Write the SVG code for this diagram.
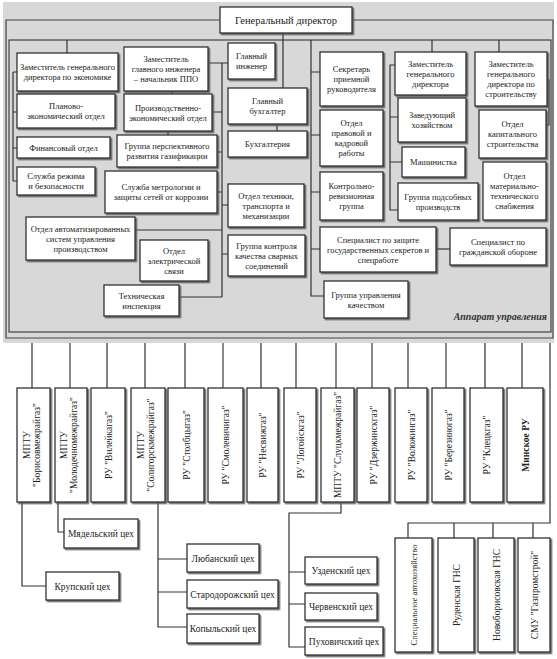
<svg xmlns="http://www.w3.org/2000/svg" width="557" height="659" viewBox="0 0 557 659">
<defs>
<filter id="sh" x="-10%" y="-10%" width="130%" height="130%">
<feDropShadow dx="1.5" dy="1.5" stdDeviation="0.4" flood-color="#555" flood-opacity="0.9"/>
</filter>
<style>
.b{fill:#fff;stroke:#333;stroke-width:1.3;filter:url(#sh)}
.t{font-family:'Liberation Serif','DejaVu Serif',serif;font-size:8.5px;text-anchor:middle;fill:#222}
.v{font-family:'Liberation Serif','DejaVu Serif',serif;font-size:9.5px;text-anchor:middle;fill:#222}
.a{font-family:'Liberation Serif','DejaVu Serif',serif;font-size:10px;font-style:italic;font-weight:bold;text-anchor:end;fill:#333}
.c{fill:none;stroke:#333;stroke-width:1.2}
.g{fill:none;stroke:#888;stroke-width:2}
.f{fill:none;stroke:#444;stroke-width:1.2}
</style>
</defs>
<rect x="0" y="0" width="557" height="659" fill="#fff"/>
<rect x="3" y="2" width="551" height="341" fill="#d8d8d8"/>
<g id="frame">
<path class="f" d="M220 20H6V338H553V20H352"/>
<rect class="f" x="9" y="40" width="542" height="292"/>
<text class="a" x="547" y="320">Аппарат управления</text>
</g>
<g id="connectors">
<path class="c" d="M283 33V88"/>
<path class="c" d="M67 40V53"/>
<path class="c" d="M311 40V296H324M311 72H320M311 135H320M311 192H320M311 249H320"/>
<path class="c" d="M432 40V52"/>
<path class="c" d="M499 40V52"/>
<path class="c" d="M13 72V181M13 72H17M13 112H17M13 148H17M13 181H17"/>
<path class="c" d="M208 63H228M222 63V297M212 112H222M217 152H222M217 192H222M222 205H228M135 230H222M222 254H228M179 297H222"/>
<path class="c" d="M172 91V94M168 131V135M277 124V131"/>
<path class="c" d="M395 65H390V210H398M390 117H398M390 162H402"/>
<path class="c" d="M547 80H549V125H546"/>
<path class="c" d="M436 249H450"/>
<path class="c" d="M32 343V388M107 343V388M145 343V388M185 343V388M261 343V388M296 343V388M408 343V388M485 343V388M522 343V388"/>
<path class="g" d="M70 343V388M223 343V388M336 343V388M372 343V388M446 343V388"/>
<path class="c" d="M550 343V523H408V538M454 523V538M493 523V538M533 523V538"/>
<path class="c" d="M22 502V586H46"/>
<path class="c" d="M58 502V532H64"/>
<path class="c" d="M158 502V627H187M158 559H187M158 592H187"/>
<path class="c" d="M341 502V513H289V647H305M289 572H305M289 604H305"/>
</g>
<g id="gen_dir"><rect class="b" x="220" y="7" width="132" height="26"/><text class="t" x="286" y="23.5" style="font-size:10.5px">Генеральный директор</text></g>
<g id="zam_econ"><rect class="b" x="17" y="53" width="101" height="38"/><text class="t" x="67.5" y="70">Заместитель генерального<tspan x="67.5" dy="10">директора по экономике</tspan></text></g>
<g id="zam_gi"><rect class="b" x="124" y="47" width="84" height="44"/><text class="t" x="166" y="62">Заместитель<tspan x="166" dy="10">главного инженера</tspan><tspan x="166" dy="10">– начальник ППО</tspan></text></g>
<g id="gl_inzh"><rect class="b" x="228" y="43" width="47" height="36"/><text class="t" x="251.5" y="59">Главный<tspan x="251.5" dy="10">инженер</tspan></text></g>
<g id="plan_econ"><rect class="b" x="17" y="94" width="98" height="34"/><text class="t" x="66" y="109">Планово-<tspan x="66" dy="10">экономический отдел</tspan></text></g>
<g id="proizv_econ"><rect class="b" x="124" y="94" width="88" height="37"/><text class="t" x="168" y="110.5">Производственно-<tspan x="168" dy="10">экономический отдел</tspan></text></g>
<g id="gl_buh"><rect class="b" x="228" y="88" width="79" height="36"/><text class="t" x="267.5" y="104">Главный<tspan x="267.5" dy="10">бухгалтер</tspan></text></g>
<g id="buh"><rect class="b" x="228" y="131" width="79" height="26"/><text class="t" x="267.5" y="147">Бухгалтерия</text></g>
<g id="fin"><rect class="b" x="17" y="137" width="93" height="21"/><text class="t" x="63.5" y="150.5">Финансовый отдел</text></g>
<g id="persp"><rect class="b" x="117" y="135" width="100" height="32"/><text class="t" x="167" y="149">Группа перспективного<tspan x="167" dy="10">развития газификации</tspan></text></g>
<g id="rezhim"><rect class="b" x="17" y="167" width="78" height="28"/><text class="t" x="56" y="179">Служба режима<tspan x="56" dy="10">и безопасности</tspan></text></g>
<g id="metrol"><rect class="b" x="105" y="171" width="112" height="42"/><text class="t" x="161" y="190">Служба метрологии и<tspan x="161" dy="10">защиты сетей от коррозии</tspan></text></g>
<g id="tehn"><rect class="b" x="228" y="184" width="76" height="43"/><text class="t" x="266" y="198.5">Отдел техники,<tspan x="266" dy="10">транспорта и</tspan><tspan x="266" dy="10">механизации</tspan></text></g>
<g id="asu"><rect class="b" x="26" y="217" width="109" height="43"/><text class="t" x="80.5" y="231.5">Отдел автоматизированных<tspan x="80.5" dy="10">систем управления</tspan><tspan x="80.5" dy="10">производством</tspan></text></g>
<g id="svyaz"><rect class="b" x="140" y="240" width="68" height="41"/><text class="t" x="174" y="253.5">Отдел<tspan x="174" dy="10">электрической</tspan><tspan x="174" dy="10">связи</tspan></text></g>
<g id="kontrol"><rect class="b" x="228" y="235" width="77" height="41"/><text class="t" x="266.5" y="248.5">Группа контроля<tspan x="266.5" dy="10">качества сварных</tspan><tspan x="266.5" dy="10">соединений</tspan></text></g>
<g id="inspek"><rect class="b" x="104" y="285" width="75" height="31"/><text class="t" x="141.5" y="298.5">Техническая<tspan x="141.5" dy="10">инспекция</tspan></text></g>
<g id="sekr"><rect class="b" x="320" y="52" width="63" height="54"/><text class="t" x="351.5" y="72">Секретарь<tspan x="351.5" dy="10">приемной</tspan><tspan x="351.5" dy="10">руководителя</tspan></text></g>
<g id="pravo"><rect class="b" x="320" y="110" width="63" height="56"/><text class="t" x="351.5" y="126">Отдел<tspan x="351.5" dy="10">правовой и</tspan><tspan x="351.5" dy="10">кадровой</tspan><tspan x="351.5" dy="10">работы</tspan></text></g>
<g id="krg"><rect class="b" x="320" y="172" width="63" height="48"/><text class="t" x="351.5" y="189">Контрольно-<tspan x="351.5" dy="10">ревизионная</tspan><tspan x="351.5" dy="10">группа</tspan></text></g>
<g id="zashita"><rect class="b" x="320" y="227" width="116" height="45"/><text class="t" x="378" y="242.5">Специалист по защите<tspan x="378" dy="10">государственных секретов и</tspan><tspan x="378" dy="10">спецработе</tspan></text></g>
<g id="kachestvo"><rect class="b" x="324" y="281" width="84" height="37"/><text class="t" x="366" y="297.5">Группа управления<tspan x="366" dy="10">качеством</tspan></text></g>
<g id="zam_gd"><rect class="b" x="395" y="52" width="71" height="43"/><text class="t" x="430.5" y="66.5">Заместитель<tspan x="430.5" dy="10">генерального</tspan><tspan x="430.5" dy="10">директора</tspan></text></g>
<g id="zavhoz"><rect class="b" x="398" y="98" width="68" height="44"/><text class="t" x="432" y="118">Заведующий<tspan x="432" dy="10">хозяйством</tspan></text></g>
<g id="mash"><rect class="b" x="402" y="147" width="63" height="30"/><text class="t" x="433.5" y="165">Машинистка</text></g>
<g id="podsob"><rect class="b" x="398" y="183" width="80" height="37"/><text class="t" x="438" y="199.5">Группа подсобных<tspan x="438" dy="10">производств</tspan></text></g>
<g id="go"><rect class="b" x="450" y="228" width="96" height="37"/><text class="t" x="498" y="244.5">Специалист по<tspan x="498" dy="10">гражданской обороне</tspan></text></g>
<g id="zam_str"><rect class="b" x="475" y="52" width="72" height="54"/><text class="t" x="511" y="67">Заместитель<tspan x="511" dy="10">генерального</tspan><tspan x="511" dy="10">директора по</tspan><tspan x="511" dy="10">строительству</tspan></text></g>
<g id="kapstr"><rect class="b" x="479" y="110" width="67" height="48"/><text class="t" x="512.5" y="127">Отдел<tspan x="512.5" dy="10">капитального</tspan><tspan x="512.5" dy="10">строительства</tspan></text></g>
<g id="mts"><rect class="b" x="483" y="162" width="63" height="58"/><text class="t" x="514.5" y="179">Отдел<tspan x="514.5" dy="10">материально-</tspan><tspan x="514.5" dy="10">технического</tspan><tspan x="514.5" dy="10">снабжения</tspan></text></g>
<g id="u1"><rect class="b" x="17" y="388" width="33" height="114"/><text class="v" transform="translate(33.5 445) rotate(-90)" y="-4">МПТУ<tspan x="0" dy="10">"Борисовмежрайгаз"</tspan></text></g>
<g id="u2"><rect class="b" x="55" y="388" width="32" height="114"/><text class="v" transform="translate(71 445) rotate(-90)" y="-4">МПТУ<tspan x="0" dy="10">"Молодечномежрайгаз"</tspan></text></g>
<g id="u3"><rect class="b" x="91" y="388" width="34" height="114"/><text class="v" transform="translate(108 445) rotate(-90)" y="3.5">РУ "Вилейкагаз"</text></g>
<g id="u4"><rect class="b" x="131" y="388" width="34" height="114"/><text class="v" transform="translate(148 445) rotate(-90)" y="-4">МПТУ<tspan x="0" dy="10">"Солигорскмежрайгаз"</tspan></text></g>
<g id="u5"><rect class="b" x="168" y="388" width="36" height="114"/><text class="v" transform="translate(186 445) rotate(-90)" y="3.5">РУ "Столбцыгаз"</text></g>
<g id="u6"><rect class="b" x="208" y="388" width="35" height="114"/><text class="v" transform="translate(225.5 445) rotate(-90)" y="3.5">РУ "Смолевичигаз"</text></g>
<g id="u7"><rect class="b" x="247" y="388" width="31" height="114"/><text class="v" transform="translate(262.5 445) rotate(-90)" y="3.5">РУ "Несвижгаз"</text></g>
<g id="u8"><rect class="b" x="284" y="388" width="32" height="114"/><text class="v" transform="translate(300 445) rotate(-90)" y="3.5">РУ "Логойскгаз"</text></g>
<g id="u9"><rect class="b" x="321" y="388" width="33" height="114"/><text class="v" transform="translate(337.5 445) rotate(-90)" y="3.5">МПТУ "Слуцкмежрайгаз"</text></g>
<g id="u10"><rect class="b" x="357" y="388" width="32" height="114"/><text class="v" transform="translate(373 445) rotate(-90)" y="3.5">РУ "Дзержинскгаз"</text></g>
<g id="u11"><rect class="b" x="395" y="388" width="32" height="114"/><text class="v" transform="translate(411 445) rotate(-90)" y="3.5">РУ "Воложингаз"</text></g>
<g id="u12"><rect class="b" x="432" y="388" width="32" height="114"/><text class="v" transform="translate(448 445) rotate(-90)" y="3.5">РУ "Березиногаз"</text></g>
<g id="u13"><rect class="b" x="470" y="388" width="33" height="114"/><text class="v" transform="translate(486.5 445) rotate(-90)" y="3.5">РУ "Клецкгаз"</text></g>
<g id="u14"><rect class="b" x="507" y="388" width="36" height="114"/><text class="v" transform="translate(525 445) rotate(-90)" y="3.5" style="font-weight:bold">Минское РУ</text></g>
<g id="myadel"><rect class="b" x="64" y="519" width="74" height="29"/><text class="v" x="101" y="537">Мядельский цех</text></g>
<g id="krupki"><rect class="b" x="46" y="572" width="73" height="28"/><text class="v" x="82.5" y="589.5">Крупский цех</text></g>
<g id="luban"><rect class="b" x="187" y="544" width="72" height="28"/><text class="v" x="223" y="561.5">Любанский цех</text></g>
<g id="starodor"><rect class="b" x="187" y="580" width="91" height="28"/><text class="v" x="232.5" y="597.5">Стародорожский цех</text></g>
<g id="kopyl"><rect class="b" x="187" y="614" width="72" height="29"/><text class="v" x="223" y="632">Копыльский цех</text></g>
<g id="uzda"><rect class="b" x="305" y="557" width="72" height="27"/><text class="v" x="341" y="574">Узденский цех</text></g>
<g id="cherven"><rect class="b" x="305" y="593" width="72" height="27"/><text class="v" x="341" y="610">Червенский цех</text></g>
<g id="puh"><rect class="b" x="305" y="627" width="78" height="28"/><text class="v" x="344" y="644.5">Пуховичский цех</text></g>
<g id="spec"><rect class="b" x="395" y="538" width="37" height="114"/><text class="t" transform="translate(413.5 595) rotate(-90)" y="3">Специальное автохозяйство</text></g>
<g id="ruden"><rect class="b" x="438" y="538" width="36" height="114"/><text class="v" transform="translate(456 595) rotate(-90)" y="3.5">Руденская ГНС</text></g>
<g id="novobor"><rect class="b" x="478" y="538" width="36" height="114"/><text class="v" transform="translate(496 595) rotate(-90)" y="3.5">Новоборисовская ГНС</text></g>
<g id="smu"><rect class="b" x="518" y="538" width="32" height="114"/><text class="v" transform="translate(534 595) rotate(-90)" y="3.5">СМУ "Газпромстрой"</text></g>
</svg>
